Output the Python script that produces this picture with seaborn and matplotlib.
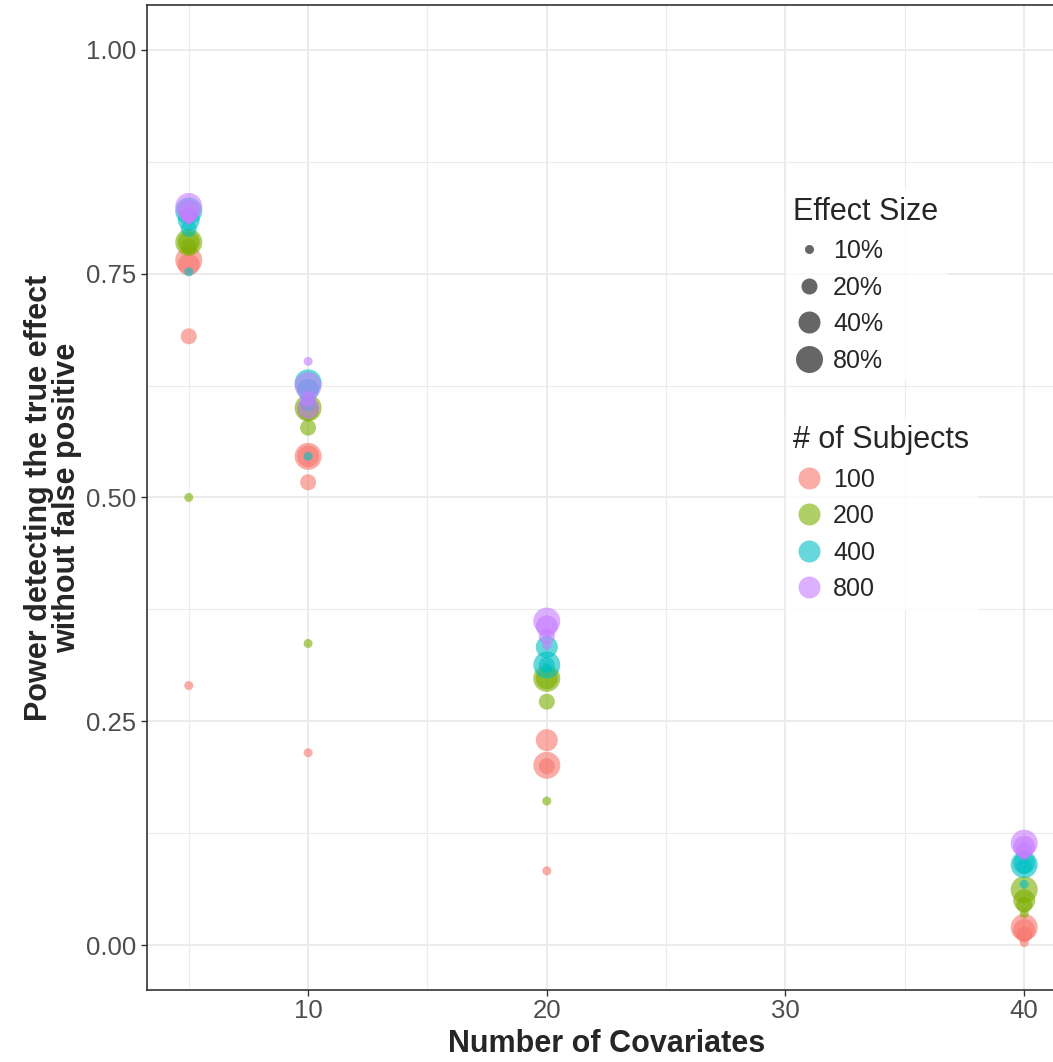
import pandas as pd
import numpy as np
import matplotlib
matplotlib.use("Agg")
import matplotlib.pyplot as plt
from matplotlib.lines import Line2D
import seaborn as sns

# values
covariates = [5, 10, 20, 40]
subjects = ["100", "200", "400", "800"]
effect_sizes = ["10%", "20%", "40%", "80%"]

# power per number of subjects, per covariates -> effect size 10%, 20%, 40%, 80%
power_100 = {5: [0.290, 0.680, 0.760, 0.765], 10: [0.215, 0.517, 0.546, 0.546],
             20: [0.083, 0.200, 0.229, 0.201], 40: [0.003, 0.012, 0.017, 0.020]}
power_200 = {5: [0.500, 0.780, 0.785, 0.785], 10: [0.337, 0.578, 0.598, 0.600],
             20: [0.161, 0.272, 0.298, 0.298], 40: [0.035, 0.045, 0.050, 0.062]}
power_400 = {5: [0.752, 0.800, 0.810, 0.820], 10: [0.546, 0.605, 0.620, 0.628],
             20: [0.310, 0.313, 0.333, 0.313], 40: [0.068, 0.088, 0.092, 0.090]}
power_800 = {5: [0.810, 0.815, 0.820, 0.825], 10: [0.652, 0.610, 0.600, 0.625],
             20: [0.335, 0.345, 0.356, 0.362], 40: [0.100, 0.106, 0.110, 0.114]}

palette = {"100": "#F8766D", "200": "#7CAE00", "400": "#00BFC4", "800": "#C77CFF"}
marker_sizes = {"10%": 42, "20%": 133, "40%": 251, "80%": 378}


def build_frame():
    rows = []
    for subj, table in zip(subjects, [power_100, power_200, power_400, power_800]):
        for cov in covariates:
            for eff, val in zip(effect_sizes, table[cov]):
                rows.append({"Covariates": cov, "Power": val,
                             "Subjects": subj, "Effect": eff})
    return pd.DataFrame(rows)


df = build_frame()

sns.set_style("white")
plt.rcParams["font.family"] = ["Liberation Sans", "DejaVu Sans"]

fig = plt.figure(figsize=(10.53, 10.62), dpi=100)
ax = fig.add_axes([0.1396, 0.0678, 0.8727, 0.9275])

sns.scatterplot(data=df, x="Covariates", y="Power", hue="Subjects",
                size="Effect", palette=palette, sizes=marker_sizes,
                hue_order=subjects, size_order=effect_sizes,
                alpha=0.6, linewidth=0, legend=False, ax=ax, zorder=3)

ax.set_xlim(3.25, 41.75)
ax.set_ylim(-0.05, 1.05)
ax.set_xticks([10, 20, 30, 40])
ax.set_xticks([5, 15, 25, 35], minor=True)
ax.set_yticks([0, 0.25, 0.5, 0.75, 1.0])
ax.set_yticks([0.125, 0.375, 0.625, 0.875], minor=True)
ax.set_yticklabels(["0.00", "0.25", "0.50", "0.75", "1.00"])
ax.grid(True, which="major", color="#EBEBEB", linewidth=1.4, zorder=0)
ax.grid(True, which="minor", color="#EBEBEB", linewidth=0.8, zorder=0)
ax.set_axisbelow(True)
ax.tick_params(axis="both", which="major", labelsize=18.5, labelcolor="#4D4D4D",
               color="#333333", length=4.5, width=1, pad=3,
               left=True, bottom=True)
ax.tick_params(axis="x", which="major", pad=2)
ax.tick_params(axis="both", which="minor", length=0)
for sp in ax.spines.values():
    sp.set_color("#333333")
    sp.set_linewidth(1.2)

ax.set_xlabel("Number of Covariates", fontsize=22, fontweight="bold", labelpad=4)
ax.set_ylabel("Power detecting the true effect\nwithout false positive",
              fontsize=22, fontweight="bold", labelpad=3, linespacing=0.9)

# legends: effect size first, then number of subjects
size_handles = [Line2D([], [], marker="o", linestyle="", color="#666666",
                       markersize=np.sqrt(marker_sizes[e]), markeredgewidth=0,
                       label=e) for e in effect_sizes]
hue_handles = [Line2D([], [], marker="o", linestyle="", color=palette[s],
                      alpha=0.6, markersize=np.sqrt(251), markeredgewidth=0,
                      label=s) for s in subjects]

legend_kw = dict(loc="upper left", frameon=True, fontsize=18,
                 title_fontsize=22, handlelength=1.3, handletextpad=0.3,
                 labelspacing=0.5, borderpad=0.3, borderaxespad=0,
                 alignment="left", fancybox=False)

leg1 = ax.legend(handles=size_handles, title="Effect Size",
                 bbox_to_anchor=(0.695, 0.813), **legend_kw)
leg1.get_frame().set_facecolor("white")
leg1.get_frame().set_edgecolor("white")
ax.add_artist(leg1)

leg2 = ax.legend(handles=hue_handles, title="# of Subjects",
                 bbox_to_anchor=(0.695, 0.581), **legend_kw)
leg2.get_frame().set_facecolor("white")
leg2.get_frame().set_edgecolor("white")

fig.savefig("out.png", dpi=100)
